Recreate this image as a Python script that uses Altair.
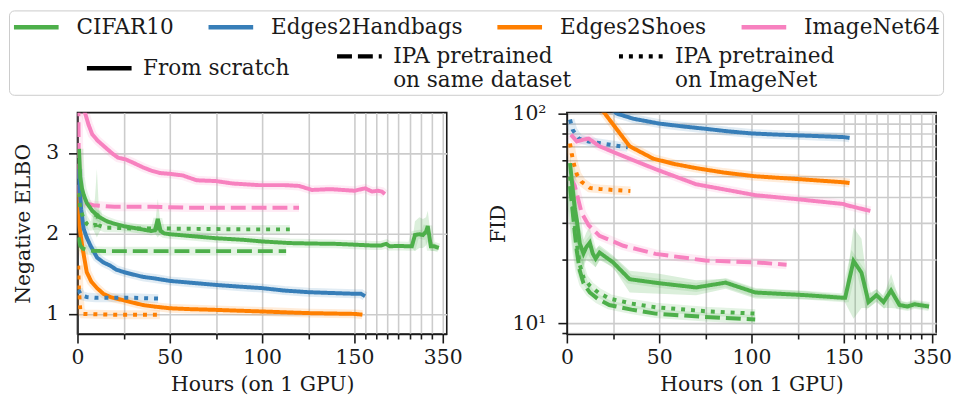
import altair as alt
import pandas as pd

# ---------------- categories / styles ----------------
DATASETS = ["CIFAR10", "Edges2Handbags", "Edges2Shoes", "ImageNet64"]
COLORS = ["#4daf4a", "#377eb8", "#ff7f00", "#f781bf"]
KINDS = ["From scratch", "IPA pretrained|on same dataset", "IPA pretrained|on ImageNet"]
DASHES = [[1, 0], [15, 6], [4, 6]]

X_TICKS = [0, 25, 50, 75, 100, 125, 150, 175, 200, 225, 250, 275, 300, 325, 350]
X_MAJOR = [0, 50, 100, 150, 350]
ELBO_TICKS = [1, 2, 3]
FID_TICKS = [9, 10, 20, 30, 40, 50, 60, 70, 80, 90, 100]

# ---------------- Negative ELBO series ----------------
elbo_cifar_scratch_h = [0.8, 1.5, 2.5, 3.5, 5, 8, 12, 16, 20, 25, 30, 35, 40, 42, 43.5, 45, 47, 50, 60, 75,
                        90, 100, 115, 125, 140, 150, 170, 190, 210, 222, 230, 250, 270, 280, 287, 297, 305,
                        312, 316, 320, 323, 330, 341]
elbo_cifar_scratch_v = [3.05, 2.7, 2.55, 2.47, 2.38, 2.28, 2.2, 2.15, 2.12, 2.09, 2.07, 2.05, 2.03, 2.04, 2.18,
                        2.03, 2.0, 1.99, 1.97, 1.94, 1.92, 1.9, 1.88, 1.875, 1.87, 1.86, 1.855, 1.85, 1.85,
                        1.87, 1.84, 1.845, 1.84, 1.84, 1.98, 1.99, 1.98, 2.02, 2.09, 1.95, 1.84, 1.84, 1.82]
elbo_cifar_inet_h = [0.5, 1.5, 3, 5, 7, 9.5, 10.5, 11.5, 15, 20, 30, 40, 50, 70, 90, 115]
elbo_cifar_inet_v = [2.5, 2.32, 2.2, 2.12, 2.09, 2.1, 2.28, 2.1, 2.07, 2.07, 2.06, 2.06, 2.06, 2.055, 2.05, 2.05]
elbo_cifar_same_h = [0.5, 1.5, 3, 5, 8, 15, 30, 50, 70, 90, 113]
elbo_cifar_same_v = [1.95, 1.85, 1.81, 1.795, 1.785, 1.78, 1.78, 1.78, 1.78, 1.78, 1.78]

elbo_hand_scratch_h = [0.5, 1, 2, 3.3, 5, 7, 10.6, 14, 17.7, 21, 25, 30, 35.5, 42, 50, 60, 75, 87, 100, 112,
                       125, 137, 150, 165, 174]
elbo_hand_scratch_v = [2.8, 2.6, 2.3, 2.06, 1.95, 1.85, 1.7, 1.64, 1.6, 1.55, 1.52, 1.49, 1.46, 1.44, 1.41,
                       1.39, 1.36, 1.34, 1.32, 1.29, 1.27, 1.26, 1.25, 1.25, 1.22]
elbo_hand_inet_h = [0.5, 2, 5, 10, 20, 30, 43.7]
elbo_hand_inet_v = [1.3, 1.23, 1.21, 1.2, 1.2, 1.2, 1.19]

elbo_shoes_scratch_h = [0.5, 1, 2.5, 5, 7.5, 10.6, 14, 17.7, 21, 25, 30, 35.5, 42, 50, 60, 75, 87, 100, 112,
                        125, 137, 150, 160, 168]
elbo_shoes_scratch_v = [2.5, 2.1, 1.85, 1.52, 1.4, 1.32, 1.25, 1.21, 1.19, 1.17, 1.14, 1.11, 1.09, 1.07, 1.06,
                        1.05, 1.04, 1.03, 1.02, 1.01, 1.005, 1.0, 0.995, 0.99]
elbo_shoes_inet_h = [0.4, 0.8, 1.5, 3, 10, 20, 30, 44.6]
elbo_shoes_inet_v = [1.6, 1.3, 1.05, 1.0, 0.995, 0.99, 0.99, 0.99]

elbo_inet_scratch_h = [1.5, 2.5, 4.3, 6, 8, 11, 14, 16, 19, 22, 26, 30, 35.5, 40, 44.6, 50, 57, 64.5, 75, 84,
                       98, 112, 120, 127, 137, 150, 174, 190, 203, 212, 219]
elbo_inet_scratch_v = [3.9, 3.6, 3.48, 3.35, 3.23, 3.15, 3.09, 3.05, 2.99, 2.94, 2.92, 2.88, 2.82, 2.78, 2.75,
                       2.74, 2.72, 2.66, 2.65, 2.62, 2.6, 2.6, 2.59, 2.54, 2.55, 2.53, 2.56, 2.52, 2.53, 2.52,
                       2.49]
elbo_inet_same_h = [0.4, 0.8, 3.3, 8.6, 20, 40, 60, 80, 100, 120]
elbo_inet_same_v = [3.9, 2.5, 2.38, 2.35, 2.33, 2.33, 2.32, 2.32, 2.32, 2.32]

# spread bands (ELBO, CIFAR10)
elbo_band1_h = [40, 42, 43.5, 45, 47]
elbo_band1_lo = [2.02, 2.0, 1.95, 2.0, 1.99]
elbo_band1_hi = [2.04, 2.1, 2.43, 2.1, 2.01]
elbo_band2_h = [280, 287, 297, 305, 312, 316, 320, 323, 330, 341]
elbo_band2_lo = [1.82, 1.78, 1.82, 1.82, 1.85, 1.9, 1.82, 1.78, 1.78, 1.79]
elbo_band2_hi = [1.86, 2.15, 2.2, 2.18, 2.2, 2.28, 2.1, 1.9, 1.88, 1.85]
elbo_band3_h = [8, 9.5, 10.5, 11.5, 13]
elbo_band3_lo = [2.07, 2.0, 1.95, 2.0, 2.06]
elbo_band3_hi = [2.1, 2.45, 2.8, 2.35, 2.09]

# ---------------- FID series ----------------
fid_hand_scratch_h = [18, 27, 36, 50, 62, 75, 87, 100, 112, 125, 137, 150, 163]
fid_hand_scratch_v = [118, 100, 94.5, 89.6, 87, 84.6, 82.3, 80.4, 79.5, 78.7, 78, 77.2, 76.5]
fid_hand_inet_h = [1.7, 3.2, 6.5, 11.8, 21.5, 33]
fid_hand_inet_v = [93.6, 83.5, 76, 73.6, 71.4, 69]

fid_shoes_scratch_h = [12, 20.6, 34, 46.7, 58, 70, 85, 102, 125, 150, 163]
fid_shoes_scratch_v = [125, 100, 69.8, 61, 57.5, 54.9, 52.3, 50.2, 48.7, 47, 46.6]
fid_shoes_inet_h = [1.7, 2.7, 3.8, 5.4, 8, 12.4, 17.7, 25, 34.4]
fid_shoes_inet_v = [72, 63.8, 57.4, 51.3, 47.2, 44.2, 43.7, 43.2, 42.7]

fid_inet_scratch_h = [2.2, 5.4, 8.5, 11.8, 17.7, 30.6, 48, 70, 102, 125, 150, 155, 210]
fid_inet_scratch_v = [79.3, 73.6, 75, 76, 69.8, 62.6, 54.3, 46, 40.8, 39, 37, 36.6, 34.3]
fid_inet_same_h = [1.7, 4.3, 8, 11.8, 17.7, 30.6, 48, 75, 102, 119]
fid_inet_same_v = [50.3, 45.2, 33.6, 29.3, 26.1, 23.4, 21.4, 19.9, 19.5, 19.0]

fid_cifar_scratch_h = [1.7, 3, 4.3, 5.4, 7, 9, 10.5, 12.4, 14, 15.6, 17.7, 25, 34, 50, 70, 86, 102, 129, 150,
                       153, 172, 190, 206, 224, 240, 257, 276, 294, 310, 343]
fid_cifar_scratch_v = [58, 45, 35, 30.9, 24, 21.5, 23, 24.2, 21.5, 20.3, 21.7, 19.5, 16.2, 15.5, 14.8, 15.6,
                       14.0, 13.6, 13.2, 13.2, 19.8, 17.4, 12.6, 13.6, 12.6, 14.3, 12.2, 12.0, 12.3, 12.0]
fid_cifar_scratch_lo = [50, 38, 28, 25, 20, 18.5, 20, 19.5, 19, 18.5, 20, 18.5, 14.0, 13.8, 13.6, 14.6, 13.1,
                        13.0, 12.8, 12.5, 10.5, 11.8, 11.8, 12.6, 11.8, 11.8, 11.7, 11.6, 11.8, 11.6]
fid_cifar_scratch_hi = [64, 52, 42, 37, 29, 25, 27, 29, 24, 22.5, 23.5, 21, 17.8, 17.2, 16.0, 16.3, 14.6,
                        14.2, 13.6, 14, 28.6, 25.3, 13.8, 14.5, 13.4, 17.2, 12.8, 12.5, 12.8, 12.4]
fid_cifar_same_h = [1.7, 3, 4.3, 5.4, 7, 9, 12.4, 17, 23, 35, 48, 75, 102]
fid_cifar_same_v = [45, 35, 27, 22, 17.8, 15.5, 14.0, 13.0, 12.2, 11.6, 11.1, 10.7, 10.4]
fid_cifar_inet_h = [1.7, 3, 4.3, 5.4, 7, 9, 12.4, 17, 23, 35, 48, 75, 102]
fid_cifar_inet_v = [50, 38, 29, 24, 19, 16.5, 15.1, 14.0, 13.1, 12.4, 11.9, 11.4, 11.1]


def long_lines(items):
    rows = []
    for ds, kind, hs, vs in items:
        for h, v in zip(hs, vs):
            rows.append({"dataset": ds, "kind": kind, "h": h, "v": v})
    return pd.DataFrame(rows)


def long_bands(items):
    rows = []
    for ds, seg, hs, los, his in items:
        for h, lo, hi in zip(hs, los, his):
            rows.append({"dataset": ds, "seg": seg, "h": h, "lo": lo, "hi": hi})
    return pd.DataFrame(rows)


S, SAME, INET = KINDS
elbo_df = long_lines([
    ("ImageNet64", S, elbo_inet_scratch_h, elbo_inet_scratch_v),
    ("ImageNet64", SAME, elbo_inet_same_h, elbo_inet_same_v),
    ("Edges2Shoes", S, elbo_shoes_scratch_h, elbo_shoes_scratch_v),
    ("Edges2Shoes", INET, elbo_shoes_inet_h, elbo_shoes_inet_v),
    ("Edges2Handbags", S, elbo_hand_scratch_h, elbo_hand_scratch_v),
    ("Edges2Handbags", INET, elbo_hand_inet_h, elbo_hand_inet_v),
    ("CIFAR10", SAME, elbo_cifar_same_h, elbo_cifar_same_v),
    ("CIFAR10", INET, elbo_cifar_inet_h, elbo_cifar_inet_v),
    ("CIFAR10", S, elbo_cifar_scratch_h, elbo_cifar_scratch_v),
])
elbo_bands = long_bands([
    ("CIFAR10", "a", elbo_band1_h, elbo_band1_lo, elbo_band1_hi),
    ("CIFAR10", "b", elbo_band2_h, elbo_band2_lo, elbo_band2_hi),
    ("CIFAR10", "c", elbo_band3_h, elbo_band3_lo, elbo_band3_hi),
])
fid_df = long_lines([
    ("Edges2Handbags", S, fid_hand_scratch_h, fid_hand_scratch_v),
    ("Edges2Handbags", INET, fid_hand_inet_h, fid_hand_inet_v),
    ("Edges2Shoes", S, fid_shoes_scratch_h, fid_shoes_scratch_v),
    ("Edges2Shoes", INET, fid_shoes_inet_h, fid_shoes_inet_v),
    ("ImageNet64", S, fid_inet_scratch_h, fid_inet_scratch_v),
    ("ImageNet64", SAME, fid_inet_same_h, fid_inet_same_v),
    ("CIFAR10", SAME, fid_cifar_same_h, fid_cifar_same_v),
    ("CIFAR10", INET, fid_cifar_inet_h, fid_cifar_inet_v),
    ("CIFAR10", S, fid_cifar_scratch_h, fid_cifar_scratch_v),
])
fid_bands = long_bands([
    ("CIFAR10", "a", fid_cifar_scratch_h, fid_cifar_scratch_lo, fid_cifar_scratch_hi),
])

# ---------------- scales, axes, legends ----------------
FONT = "DejaVu Serif"
INK = "#1a1a1a"
W, H = 372, 223

major_test = "indexof([0, 50, 100, 150, 350], datum.value) >= 0"
x_scale = alt.Scale(domain=[0, 150, 359], range=[0, 279, W], nice=False)
x_axis = alt.Axis(values=X_TICKS, labelExpr=f"{major_test} ? datum.label : ''",
                  tickSize={"condition": {"test": major_test, "value": 9}, "value": 5},
                  labelFlush=False, labelOverlap=False, labelPadding=5, titlePadding=6,
                  title="Hours (on 1 GPU)")

elbo_scale = alt.Scale(domain=[0.75, 3.5], nice=False, zero=False)
elbo_axis = alt.Axis(values=ELBO_TICKS, format="d", tickSize=9, labelPadding=10, titlePadding=12,
                     title="Negative ELBO")
fid_scale = alt.Scale(type="log", domain=[8.87, 101], nice=False)
fid_axis = alt.Axis(values=FID_TICKS,
                    labelExpr="datum.value == 10 ? '10¹' : (datum.value == 100 ? '10²' : '')",
                    tickSize={"condition": {"test": "datum.value == 10 || datum.value == 100", "value": 9},
                              "value": 5},
                    labelOverlap=False, labelPadding=12, titlePadding=4, title="FID")

color_scale = alt.Scale(domain=DATASETS, range=COLORS)
# same mapping, listed in reverse order (used by the un-legended band / halo layers)
shade_scale = alt.Scale(domain=DATASETS[::-1], range=COLORS[::-1])
dash_scale = alt.Scale(domain=KINDS, range=DASHES)

SWATCH = "M-2,0H2"   # a long flat stroke, twice the nominal symbol size
color_legend = alt.Legend(orient="none", legendX=-69, legendY=-103, direction="horizontal", columns=4,
                          title=" ", titleOrient="bottom", titleFontSize=20, titlePadding=33,
                          symbolType=SWATCH, symbolSize=506, symbolStrokeWidth=4.5, symbolOffset=11,
                          labelFontSize=21.7, labelOffset=27, columnPadding=26, padding=3,
                          strokeColor="#cccccc", cornerRadius=5, labelLimit=400)
dash_legend = alt.Legend(orient="none", legendX=7, legendY=-82, direction="horizontal", columns=3,
                         title=None, symbolType="stroke", symbolSize=2025, symbolStrokeWidth=4.5,
                         symbolStrokeColor="black", labelExpr="split(datum.label, '|')",
                         labelFontSize=21.7, labelOffset=9, columnPadding=38, labelLimit=400,
                         labelBaseline="middle")


def panel(lines_df, bands_df, y_scale, y_axis):
    x = alt.X("h:Q", scale=x_scale, axis=x_axis)
    bands = alt.Chart(bands_df).mark_area(opacity=0.2, clip=True).encode(
        x=x,
        y=alt.Y("lo:Q", scale=y_scale, axis=y_axis),
        y2="hi:Q",
        fill=alt.Fill("dataset:N", scale=shade_scale, legend=None),
        detail="seg:N",
    )
    halo = alt.Chart(lines_df).mark_line(strokeWidth=9, opacity=0.15, clip=True).encode(
        x=x,
        y=alt.Y("v:Q", scale=y_scale, axis=y_axis),
        stroke=alt.Stroke("dataset:N", scale=shade_scale, legend=None),
        detail="kind:N",
    )
    lines = alt.Chart(lines_df).mark_line(strokeWidth=4, clip=True, color="black").encode(
        x=x,
        y=alt.Y("v:Q", scale=y_scale, axis=y_axis),
        color=alt.Color("dataset:N", scale=color_scale, legend=color_legend),
        strokeDash=alt.StrokeDash("kind:N", scale=dash_scale, legend=dash_legend),
    )
    return alt.layer(bands, halo, lines).properties(width=W, height=H)


left = panel(elbo_df, elbo_bands, elbo_scale, elbo_axis)
right = panel(fid_df, fid_bands, fid_scale, fid_axis)

chart = alt.hconcat(left, right, spacing=121, bounds="flush", padding=0).configure_axis(
    labelFont=FONT, titleFont=FONT, labelFontSize=20.5, titleFontSize=20.5, titleFontWeight="normal",
    labelColor=INK, titleColor=INK, gridColor="#cccccc", gridWidth=1.6,
    domainColor=INK, domainWidth=1.6, tickColor=INK, tickWidth=1.6,
).configure_legend(
    labelFont=FONT, titleFont=FONT, labelColor=INK,
).configure_view(stroke=INK, strokeWidth=1.6)

chart.save("out.html", embed_options={"renderer": "svg", "actions": False})
